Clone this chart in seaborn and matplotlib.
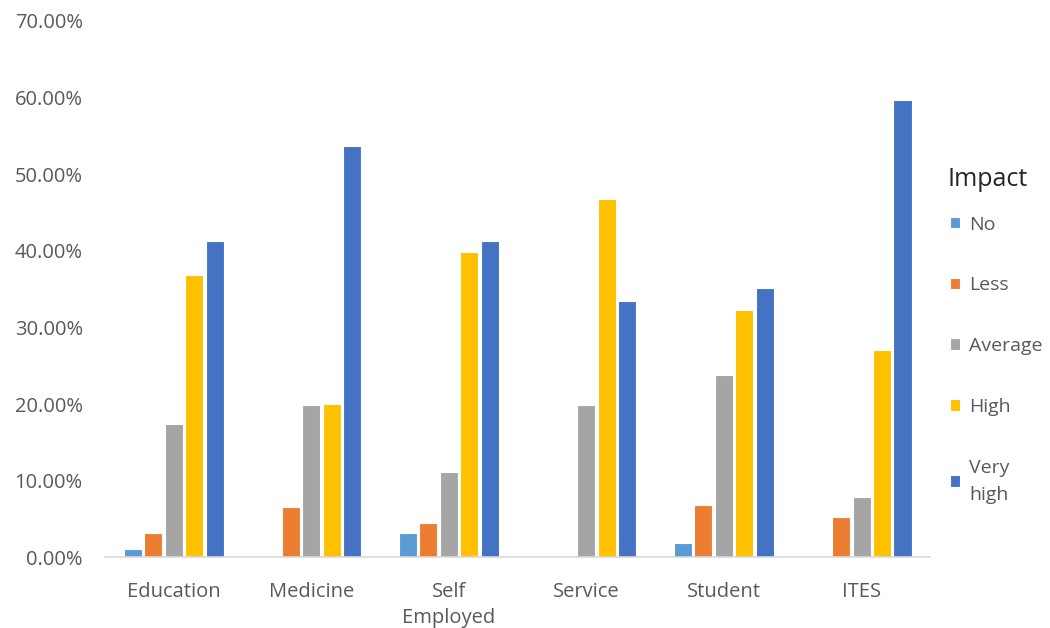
import matplotlib
matplotlib.use("Agg")
import matplotlib.pyplot as plt
import seaborn as sns
import pandas as pd
from matplotlib.ticker import PercentFormatter

categories = ["Education", "Medicine", "Self\nEmployed", "Service", "Student", "ITES"]
impact_levels = ["No", "Less", "Average", "High", "Very\nhigh"]
no_vals = [0.011, 0.0, 0.032, 0.0, 0.019, 0.0]
less_vals = [0.032, 0.066, 0.045, 0.0, 0.069, 0.053]
average_vals = [0.174, 0.199, 0.111, 0.199, 0.238, 0.079]
high_vals = [0.368, 0.200, 0.398, 0.468, 0.323, 0.270]
very_high_vals = [0.413, 0.536, 0.413, 0.335, 0.351, 0.596]
colors = ["#5B9BD5", "#ED7D31", "#A5A5A5", "#FFC000", "#4472C4"]

series = [no_vals, less_vals, average_vals, high_vals, very_high_vals]
rows = []
for lvl, vals in zip(impact_levels, series):
    for cat, v in zip(categories, vals):
        rows.append({"Category": cat, "Impact": lvl, "Value": v})
df = pd.DataFrame(rows)

sns.set_theme(style="white")
plt.rcParams["font.family"] = ["Open Sans", "DejaVu Sans"]

W, H = 1050, 628
fig = plt.figure(figsize=(W / 100, H / 100), dpi=100)
ax = fig.add_axes([0.1, 0.1123, 0.786, 0.8547])

sns.barplot(data=df, x="Category", y="Value", hue="Impact", order=categories,
            hue_order=impact_levels, palette=colors, saturation=1,
            width=0.745, gap=0.12,
            edgecolor="white", linewidth=0.8, ax=ax, legend=True)

ax.set_ylim(0, 0.70)
ax.set_xlim(-0.5, 5.5)
ax.set_yticks([i / 10 for i in range(8)])
ax.yaxis.set_major_formatter(PercentFormatter(1.0, decimals=2))
ax.set_xlabel("")
ax.set_ylabel("")
for s in ["top", "right", "left"]:
    ax.spines[s].set_visible(False)
ax.spines["bottom"].set_color("#D9D9D9")
ax.spines["bottom"].set_linewidth(1.2)
ax.tick_params(axis="y", length=0, pad=16, labelsize=14.5, labelcolor="#595959")
ax.tick_params(axis="x", length=0, pad=18, labelsize=14.5, labelcolor="#595959")
for lab in ax.get_xticklabels():
    lab.set_linespacing(1.4)
ax.grid(False)

handles, labels = ax.get_legend_handles_labels()
leg = ax.legend(handles, labels, loc="upper left",
                bbox_to_anchor=(932 / W, 1 - 198 / H), bbox_transform=fig.transFigure,
                frameon=False, fontsize=14,
                handlelength=0.55, handleheight=0.55,
                handletextpad=0.45, labelspacing=2.2)
for t in leg.get_texts():
    t.set_color("#595959")
    t.set_linespacing(1.65)

fig.text(947 / W, 1 - 180 / H, "Impact", fontsize=18, color="#262626",
         ha="left", va="center")

fig.savefig("out.png", dpi=100)
